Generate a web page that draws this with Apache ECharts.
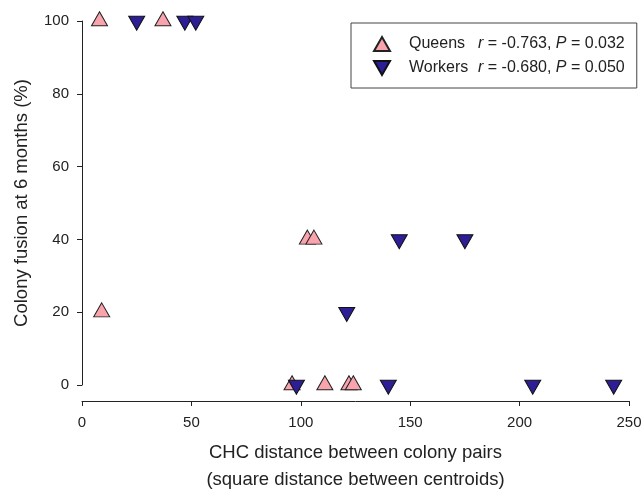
<!DOCTYPE html>
<html>
<head>
<meta charset="utf-8">
<script src="https://cdn.jsdelivr.net/npm/echarts@6/dist/echarts.min.js"></script>
<style>
  html, body { margin: 0; padding: 0; background: #fff; }
  #chart { width: 644px; height: 492px; }
</style>
</head>
<body>
<div id="chart"></div>
<script>
// CHC distance (x) vs. colony fusion at 6 months in % (y)
const queensX = [8, 37, 9, 103, 106, 96, 111, 122, 124];
const queensY = [100, 100, 20, 40, 40, 0, 0, 0, 0];
const workersX = [25, 47, 52, 121, 145, 175, 98, 140, 206, 243];
const workersY = [100, 100, 100, 20, 40, 40, 0, 0, 0, 0];

const seriesNames = ['Queens', 'Workers'];
const seriesStats = {
  Queens: { r: '-0.763', P: '0.032' },
  Workers: { r: '-0.680', P: '0.050' }
};

const xTitle = 'CHC distance between colony pairs\n(square distance between centroids)';
const yTitle = 'Colony fusion at 6 months (%)';

const FONT = "'Liberation Sans', Arial, Helvetica, sans-serif";
const INK = '#222';

function pairs(xs, ys) {
  return xs.map((x, i) => [x, ys[i]]);
}

const chart = echarts.init(document.getElementById('chart'), null, { renderer: 'canvas' });

chart.setOption({
  backgroundColor: '#fff',
  animation: false,
  textStyle: { fontFamily: FONT, color: INK },
  grid: { left: 82, right: 15, top: 21, bottom: 107, containLabel: false, outerBoundsMode: 'none' },
  legend: {
    data: seriesNames,
    orient: 'vertical',
    left: 351,
    top: 23,
    padding: [11, 12, 10, 22],
    itemGap: 4,
    itemWidth: 16,
    itemHeight: 14,
    borderColor: '#444',
    borderWidth: 1,
    borderRadius: 0,
    selectedMode: false,
    textStyle: {
      fontFamily: FONT,
      fontSize: 16,
      color: INK,
      lineHeight: 20,
      rich: {
        n: { fontFamily: FONT, fontSize: 16, color: INK, width: 69, padding: [0, 0, 0, 14] },
        i: { fontFamily: FONT, fontSize: 16, color: INK, fontStyle: 'italic' },
        t: { fontFamily: FONT, fontSize: 16, color: INK }
      }
    },
    formatter: function (name) {
      const s = seriesStats[name];
      return '{n|' + name + '}{i|r}{t| = ' + s.r + ', }{i|P}{t| = ' + s.P + '}';
    }
  },
  xAxis: {
    type: 'value',
    min: 0,
    max: 250,
    interval: 50,
    offset: 16,
    name: xTitle,
    nameLocation: 'middle',
    nameGap: 38,
    nameTextStyle: { fontFamily: FONT, fontSize: 18.5, color: INK, lineHeight: 27 },
    axisLine: { show: true, onZero: false, lineStyle: { color: INK, width: 1 } },
    axisTick: { show: true, inside: false, length: 5, lineStyle: { color: INK } },
    axisLabel: { margin: 14, fontFamily: FONT, fontSize: 15, color: INK },
    splitLine: { show: false }
  },
  yAxis: {
    type: 'value',
    min: 0,
    max: 100,
    interval: 20,
    name: yTitle,
    nameLocation: 'middle',
    nameGap: 51,
    nameTextStyle: { fontFamily: FONT, fontSize: 18.5, color: INK },
    axisLine: { show: true, onZero: false, lineStyle: { color: INK, width: 1 } },
    axisTick: { show: true, inside: false, length: 5, lineStyle: { color: INK } },
    axisLabel: { margin: 13, fontFamily: FONT, fontSize: 15, color: INK },
    splitLine: { show: false }
  },
  series: [
    {
      name: 'Queens',
      type: 'scatter',
      data: pairs(queensX, queensY),
      symbol: 'triangle',
      symbolSize: [16, 14],
      symbolOffset: [0, -2.3],
      clip: false,
      itemStyle: { color: '#F9A3AD', borderColor: '#222', borderWidth: 1, opacity: 1 },
      z: 2
    },
    {
      name: 'Workers',
      type: 'scatter',
      data: pairs(workersX, workersY),
      symbol: 'path://M0,0L16,0L8,14Z',
      symbolSize: [16, 14],
      symbolOffset: [0, 2.3],
      clip: false,
      itemStyle: { color: '#2E1E96', borderColor: '#111', borderWidth: 1, opacity: 1 },
      z: 3
    }
  ]
});
</script>
</body>
</html>
